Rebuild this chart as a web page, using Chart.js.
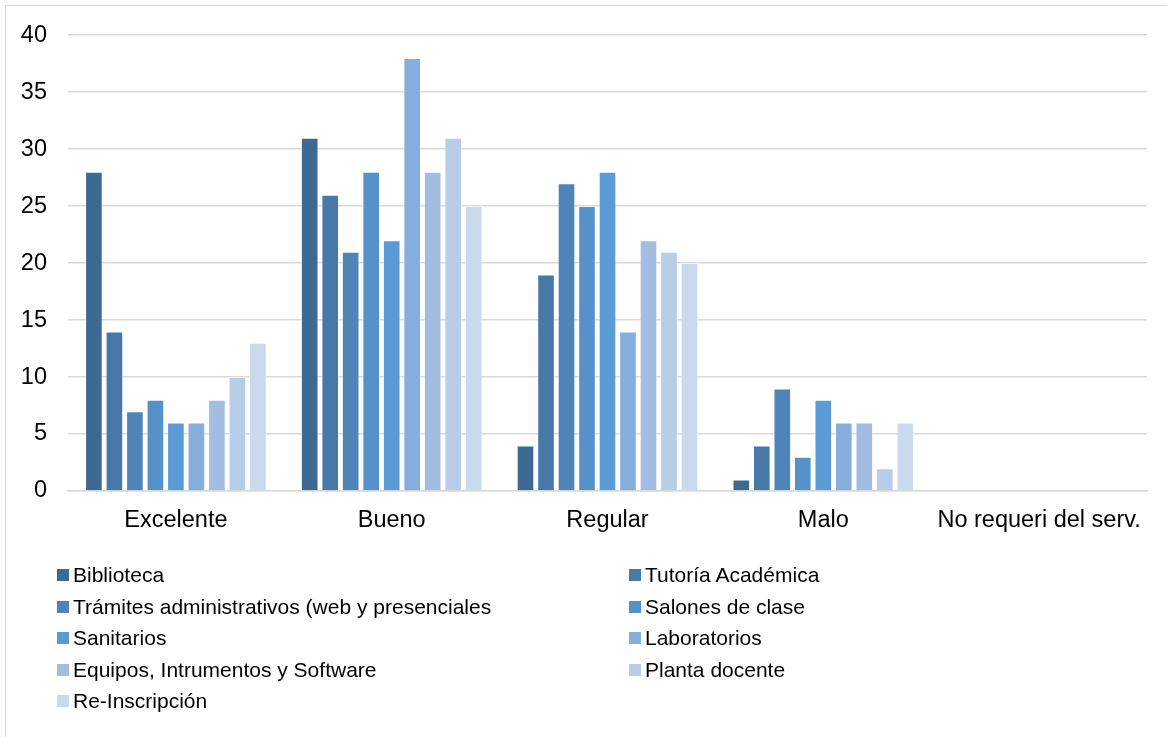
<!DOCTYPE html>
<html lang="es">
<head>
<meta charset="utf-8">
<title>Valoración de servicios</title>
<script src="https://cdn.jsdelivr.net/npm/chart.js@4/dist/chart.umd.min.js"></script>
<style>
  html, body { margin: 0; padding: 0; background: #ffffff; }
  #wrap { position: relative; width: 1167px; height: 737px; overflow: hidden; }
  #frame { position: absolute; left: 5px; top: 5px; width: 1180px; height: 760px;
           border: 1px solid #d9d9d9; box-sizing: border-box; }
  canvas { position: absolute; left: 0; top: 0; }
  .leg { position: absolute; font-family: "Liberation Sans", Arial, sans-serif;
         font-size: 21px; color: #000; white-space: nowrap; line-height: 1; }
  .leg .box { position: absolute; left: 0; width: 12px; height: 12px; }
  .leg .txt { position: absolute; left: 16px; }
</style>
</head>
<body>
<div id="wrap">
  <div id="frame"></div>
  <canvas id="chart" width="1167" height="737"></canvas>
  <div id="legend"></div>
</div>
<script>
// Rating categories along the x axis
const categories = ['Excelente', 'Bueno', 'Regular', 'Malo', 'No requeri del serv.'];

// One series per service; values follow the category order above
const biblioteca     = [28, 31, 4, 1, 0];
const tutoria        = [14, 26, 19, 4, 0];
const tramites       = [7, 21, 27, 9, 0];
const salones        = [8, 28, 25, 3, 0];
const sanitarios     = [6, 22, 28, 8, 0];
const laboratorios   = [6, 38, 14, 6, 0];
const equipos        = [8, 28, 22, 6, 0];
const plantaDocente  = [10, 31, 21, 2, 0];
const reinscripcion  = [13, 25, 20, 6, 0];

const seriesNames = [
  'Biblioteca',
  'Tutoría Académica',
  'Trámites administrativos (web y presenciales',
  'Salones de clase',
  'Sanitarios',
  'Laboratorios',
  'Equipos, Intrumentos y Software',
  'Planta docente',
  'Re-Inscripción'
];
const seriesValues = [biblioteca, tutoria, tramites, salones, sanitarios,
                      laboratorios, equipos, plantaDocente, reinscripcion];
const seriesColors = ['#3d6a93', '#4679a8', '#4e84b8', '#5592c8', '#5b9bd5',
                      '#86aedc', '#a2bde1', '#b8cde8', '#cad9ee'];

// Y axis tick values
const yTicks = [0, 5, 10, 15, 20, 25, 30, 35, 40];

const FONT = { family: '"Liberation Sans", Arial, sans-serif', size: 23.5 };
const GRID = '#d9d9d9';

const datasets = seriesNames.map((name, i) => ({
  label: name,
  data: seriesValues[i],
  backgroundColor: seriesColors[i],
  borderColor: 'rgba(255,255,255,0.45)',
  borderWidth: 1,
  categoryPercentage: 0.855,
  barPercentage: 0.86
}));

new Chart(document.getElementById('chart'), {
  type: 'bar',
  data: { labels: categories, datasets },
  options: {
    responsive: false,
    animation: false,
    events: [],
    layout: { padding: { left: 0, right: 20, top: 33, bottom: 201 } },
    plugins: { legend: { display: false }, tooltip: { enabled: false } },
    scales: {
      x: {
        grid: { display: false, drawTicks: false },
        border: { display: true, color: GRID, width: 1.5 },
        ticks: { color: '#000', font: FONT, padding: 15, maxRotation: 0, autoSkip: false },
        afterFit: s => { s.height = 45; }
      },
      y: {
        min: 0,
        max: 40,
        afterBuildTicks: s => { s.ticks = yTicks.map(v => ({ value: v })); },
        grid: { color: GRID, lineWidth: 1.5, drawTicks: false },
        border: { display: false },
        ticks: { color: '#000', font: FONT, padding: 21 },
        afterFit: s => { s.width = 68; }
      }
    }
  }
});

// Two-column legend below the plot, filled row by row
const legend = document.getElementById('legend');
const colX = [57, 629];
const rowY = [575, 606.5, 638, 669.5, 701];
seriesNames.forEach((name, i) => {
  const item = document.createElement('div');
  item.className = 'leg';
  item.style.left = colX[i % 2] + 'px';
  item.style.top = (rowY[Math.floor(i / 2)] - 11) + 'px';
  item.innerHTML = '<span class="box" style="top:5px;background:' + seriesColors[i] +
                   '"></span><span class="txt">' + name + '</span>';
  legend.appendChild(item);
});
</script>
</body>
</html>
